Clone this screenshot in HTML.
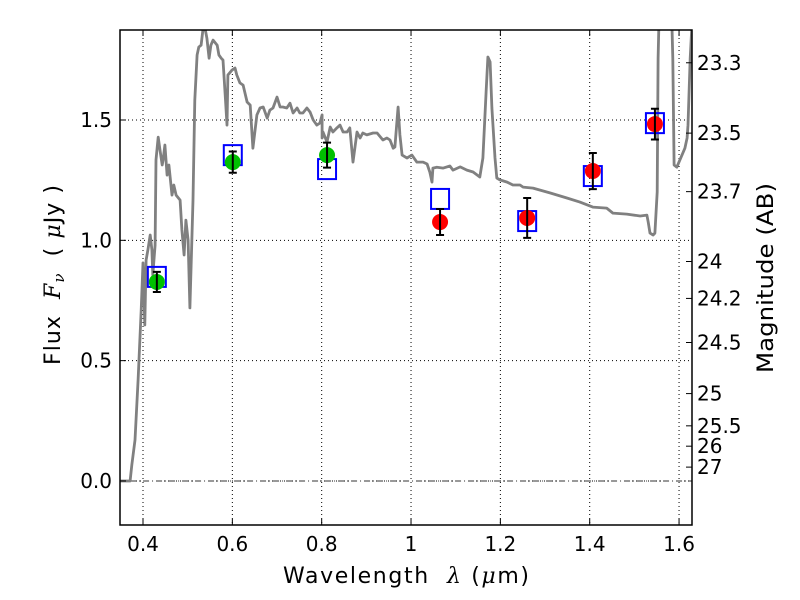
<!DOCTYPE html>
<html><head><meta charset="utf-8"><style>
body{margin:0;background:#fff;}
svg text{font-family:"DejaVu Sans","Liberation Sans",sans-serif;fill:#000;white-space:pre;}
</style></head><body>
<svg id="chart" width="800" height="600" xmlns="http://www.w3.org/2000/svg" style="display:block">
<defs><clipPath id="clip"><rect x="120" y="30" width="572" height="495"/></clipPath></defs>
<rect width="800" height="600" fill="#fff"/>
<g id="grid"></g>
<g id="marks" clip-path="url(#clip)"></g>
<g id="axes"></g>
<text x="283" y="583" font-size="22" textLength="246" lengthAdjust="spacing" xml:space="preserve">Wavelength  <tspan font-family="DejaVu Serif, serif" font-style="italic">λ</tspan> (<tspan font-family="DejaVu Serif, serif" font-style="italic">μ</tspan>m)</text>
<text transform="translate(60,365) rotate(-90)" font-size="22" textLength="180" lengthAdjust="spacing" xml:space="preserve">Flux  <tspan font-family="DejaVu Serif, serif" font-style="italic">F</tspan><tspan font-family="DejaVu Serif, serif" font-style="italic" font-size="15" dy="4">ν</tspan><tspan dy="-4">  ( </tspan><tspan font-family="DejaVu Serif, serif" font-style="italic">μ</tspan>Jy )</text>
<text transform="translate(773,373) rotate(-90)" font-size="22" textLength="190" lengthAdjust="spacingAndGlyphs">Magnitude (AB)</text>
</svg>
<script>
const specLam=[0.3485,0.371,0.375,0.382,0.389,0.396,0.400,0.404,0.407,0.411,0.416,0.420,0.422,0.427,0.429,0.434,0.438,0.443,0.445,0.449,0.454,0.458,0.465,0.469,0.474,0.483,0.487,0.492,0.496,0.501,0.505,0.512,0.516,0.521,0.525,0.530,0.534,0.539,0.543,0.548,0.552,0.557,0.566,0.570,0.575,0.579,0.584,0.588,0.590,0.599,0.606,0.610,0.617,0.624,0.633,0.640,0.646,0.655,0.662,0.669,0.678,0.684,0.691,0.700,0.707,0.713,0.722,0.729,0.736,0.745,0.751,0.758,0.767,0.774,0.781,0.789,0.796,0.801,0.801,0.803,0.812,0.819,0.825,0.834,0.841,0.848,0.857,0.863,0.870,0.879,0.886,0.892,0.901,0.915,0.924,0.937,0.946,0.953,0.960,0.964,0.971,0.975,0.980,0.991,1.002,1.013,1.027,1.036,1.042,1.047,1.049,1.058,1.072,1.087,1.094,1.110,1.125,1.139,1.154,1.161,1.168,1.172,1.177,1.181,1.188,1.192,1.199,1.215,1.228,1.244,1.251,1.273,1.311,1.349,1.378,1.407,1.438,1.452,1.483,1.513,1.528,1.531,1.535,1.542,1.546,1.551,1.553,1.555,1.584,1.586,1.589,1.595,1.602,1.613,1.618,1.620,1.625,1.629];
const specFlux=[0,0,0.066,0.170,0.420,0.710,0.906,0.648,0.918,0.960,1.022,0.960,0.856,0.980,1.334,1.429,1.375,1.313,1.334,1.396,1.271,1.313,1.188,1.230,1.188,1.167,1.043,0.939,1.084,1.001,0.719,1.167,1.583,1.770,1.803,1.811,1.874,1.88,1.840,1.757,1.811,1.832,1.811,1.770,1.757,1.749,1.604,1.479,1.687,1.707,1.716,1.687,1.654,1.645,1.575,1.562,1.383,1.521,1.550,1.554,1.508,1.541,1.550,1.595,1.554,1.554,1.550,1.570,1.529,1.550,1.529,1.529,1.550,1.533,1.500,1.479,1.487,1.521,1.425,1.450,1.408,1.471,1.450,1.467,1.479,1.450,1.450,1.467,1.325,1.450,1.425,1.446,1.438,1.446,1.446,1.417,1.425,1.417,1.383,1.388,1.554,1.438,1.354,1.342,1.354,1.325,1.325,1.317,1.284,1.242,1.300,1.304,1.300,1.309,1.292,1.305,1.292,1.284,1.263,1.342,1.616,1.762,1.741,1.550,1.342,1.259,1.251,1.242,1.230,1.230,1.221,1.217,1.197,1.176,1.159,1.138,1.134,1.113,1.109,1.101,1.105,1.076,1.030,1.022,1.030,1.201,1.757,1.9,1.9,1.757,1.313,1.304,1.334,1.383,1.425,1.479,1.757,1.9];
const bandLam=[0.431,0.601,0.812,1.065,1.260,1.407,1.546];
const obsFlux=[0.827,1.325,1.354,1.076,1.093,1.288,1.483];
const obsErr=[0.042,0.044,0.052,0.054,0.083,0.075,0.064];
const modelFlux=[0.848,1.354,1.296,1.172,1.080,1.267,1.487];
const obsColor=['#00c000','#00c000','#00c000','#ff0000','#ff0000','#ff0000','#ff0000'];
const xTicks=[0.4,0.6,0.8,1.0,1.2,1.4,1.6];
const xTickLabels=['0.4','0.6','0.8','1','1.2','1.4','1.6'];
const yTicks=[0,0.5,1.0,1.5];
const yTickLabels=['0.0','0.5','1.0','1.5'];
const magTicks=[23.3,23.5,23.7,24,24.2,24.5,25,25.5,26,27];
const magTickLabels=['23.3','23.5','23.7','24','24.2','24.5','25','25.5','26','27'];

const L=120,R=692,T=30,B=525;
const xmin=0.3485,xmax=1.629,ymin=-0.183,ymax=1.874;
const X=v=>L+(v-xmin)/(xmax-xmin)*(R-L);
const Y=v=>B-(v-ymin)/(ymax-ymin)*(B-T);
const NS='http://www.w3.org/2000/svg';
function mk(parent,tag,attrs,text){const e=document.createElementNS(NS,tag);for(const k in attrs)e.setAttribute(k,attrs[k]);if(text!==undefined)e.textContent=text;parent.appendChild(e);return e;}
const grid=document.getElementById('grid'),marks=document.getElementById('marks'),axes=document.getElementById('axes');

xTicks.forEach((t,i)=>{
  const g=mk(grid,'line',{x1:X(t),x2:X(t),y1:T,y2:B,stroke:'#000','stroke-width':1,'stroke-dasharray':'1,3'});
  
  
});
yTicks.forEach((t,i)=>{
  const g=mk(grid,'line',{x1:L,x2:R,y1:Y(t),y2:Y(t),stroke:'#000','stroke-width':1,'stroke-dasharray':'1,3'});
  
  
});
const zl=mk(marks,'line',{x1:X(0.371),x2:R,y1:Y(0),y2:Y(0),stroke:'#333','stroke-width':1,'stroke-dasharray':'6,3,1,3'});



const sp=mk(marks,'polyline',{points:specLam.map((l,i)=>X(l).toFixed(1)+','+Y(specFlux[i]).toFixed(1)).join(' '),fill:'none',stroke:'#808080','stroke-width':2.8,'stroke-linejoin':'round'});



bandLam.forEach((l,i)=>{
  const b=mk(marks,'rect',{x:X(l)-9,y:Y(modelFlux[i])-10,width:18,height:20,fill:'none',stroke:'#0000ff','stroke-width':2});
  
  
});
bandLam.forEach((l,i)=>{
  const c=mk(marks,'circle',{cx:X(l),cy:Y(obsFlux[i]),r:8,fill:obsColor[i]});
  
  
  const x=X(l),y1=Y(obsFlux[i]+obsErr[i]),y2=Y(obsFlux[i]-obsErr[i]);
  const eb=mk(marks,'path',{d:`M${x},${y1}V${y2}M${x-4},${y1}H${x+4}M${x-4},${y2}H${x+4}`,stroke:'#000','stroke-width':2,fill:'none'});
  
  
});

const fr=mk(axes,'rect',{x:L,y:T,width:R-L,height:B-T,fill:'none',stroke:'#000','stroke-width':1.5});


xTicks.forEach((t,i)=>{
  mk(axes,'line',{x1:X(t),x2:X(t),y1:B,y2:B-6,stroke:'#000'});
  mk(axes,'line',{x1:X(t),x2:X(t),y1:T,y2:T+6,stroke:'#000'});
  const tx=mk(axes,'text',{x:X(t),y:B+26,'font-size':20,'text-anchor':'middle'},xTickLabels[i]);
  
  
});
yTicks.forEach((t,i)=>{
  mk(axes,'line',{x1:L,x2:L+6,y1:Y(t),y2:Y(t),stroke:'#000'});
  const tx=mk(axes,'text',{x:L-8,y:Y(t)+7,'font-size':20,'text-anchor':'end'},yTickLabels[i]);
  
  
});
magTicks.forEach((m,i)=>{
  const y=Y(Math.pow(10,(23.9-m)/2.5));
  mk(axes,'line',{x1:R,x2:R-6,y1:y,y2:y,stroke:'#000'});
  const tx=mk(axes,'text',{x:R+5,y:y+7,'font-size':20},magTickLabels[i]);
  
  
});
</script>
</body></html>
